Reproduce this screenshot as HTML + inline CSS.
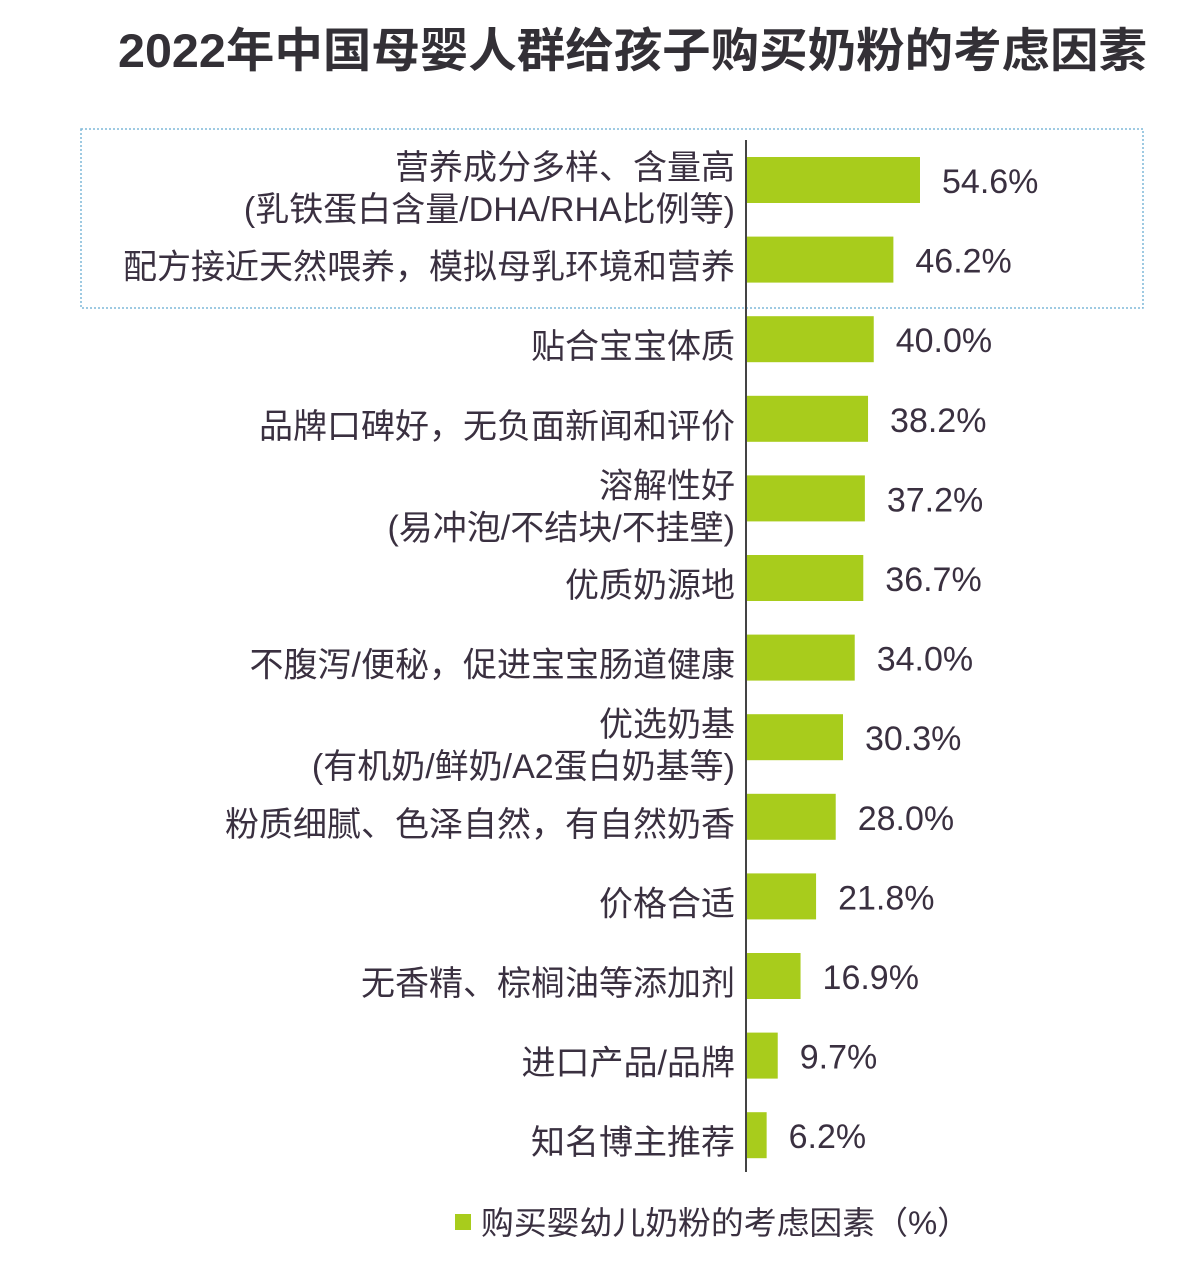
<!DOCTYPE html>
<html><head><meta charset="utf-8"><style>
body{margin:0;background:#fff;}
svg{display:block;font-family:"Liberation Sans","Noto Sans CJK SC",sans-serif;}
</style></head><body>
<svg id="chart" width="1200" height="1284" viewBox="0 0 1200 1284">
<rect width="1200" height="1284" fill="#fff"/>
<text x="118" y="67" font-size="47" font-weight="bold" fill="#333036" textLength="1029" lengthAdjust="spacingAndGlyphs">2022年中国母婴人群给孩子购买奶粉的考虑因素</text>
<rect x="81" y="129" width="1062" height="179" fill="none" stroke="#7fb8d8" stroke-width="1.5" stroke-dasharray="2,2"/>
<g id="bars"></g>
<line x1="746" y1="140" x2="746" y2="1172" stroke="#444" stroke-width="2"/>
<rect x="455" y="1214" width="16" height="16" fill="#a8cc1c"/>
<text x="481" y="1234" font-size="32" fill="#3a3040" textLength="489" lengthAdjust="spacingAndGlyphs">购买婴幼儿奶粉的考虑因素（%）</text>
</svg>
<script>
const categories = [
 ["营养成分多样、含量高","(乳铁蛋白含量/DHA/RHA比例等)"],
 ["配方接近天然喂养，模拟母乳环境和营养"],
 ["贴合宝宝体质"],
 ["品牌口碑好，无负面新闻和评价"],
 ["溶解性好","(易冲泡/不结块/不挂壁)"],
 ["优质奶源地"],
 ["不腹泻/便秘，促进宝宝肠道健康"],
 ["优选奶基","(有机奶/鲜奶/A2蛋白奶基等)"],
 ["粉质细腻、色泽自然，有自然奶香"],
 ["价格合适"],
 ["无香精、棕榈油等添加剂"],
 ["进口产品/品牌"],
 ["知名博主推荐"]
];
const values = [54.6,46.2,40.0,38.2,37.2,36.7,34.0,30.3,28.0,21.8,16.9,9.7,6.2];
const valueLabels = ["54.6%","46.2%","40.0%","38.2%","37.2%","36.7%","34.0%","30.3%","28.0%","21.8%","16.9%","9.7%","6.2%"];

const NS="http://www.w3.org/2000/svg";
const g=document.getElementById('bars');
const x0=747, pxPer=173/54.6;
const xScale=v=>v*pxPer;
const yCenter=i=>180+i*79.6;
const barH=46;
categories.forEach((lines,i)=>{
  const cy=yCenter(i);
  const r=document.createElementNS(NS,'rect');
  r.setAttribute('x',x0);r.setAttribute('y',cy-barH/2);
  r.setAttribute('width',xScale(values[i]));r.setAttribute('height',barH);
  r.setAttribute('fill','#a8cc1c');
  
  
  g.appendChild(r);
  const t=document.createElementNS(NS,'text');
  t.setAttribute('x',x0+xScale(values[i])+22);t.setAttribute('y',cy+13);
  t.setAttribute('font-size','34');t.setAttribute('fill','#3a3040');
  t.textContent=valueLabels[i];
  
  
  g.appendChild(t);
  const offs=lines.length===1?[19]:[-1,41];
  lines.forEach((ln,j)=>{
    const c=document.createElementNS(NS,'text');
    c.setAttribute('x',735);c.setAttribute('y',cy+offs[j]);
    c.setAttribute('text-anchor','end');c.setAttribute('font-size','34');c.setAttribute('fill','#3a3040');
    c.textContent=ln;
    
    
    g.appendChild(c);
  });
});
</script>
</body></html>
